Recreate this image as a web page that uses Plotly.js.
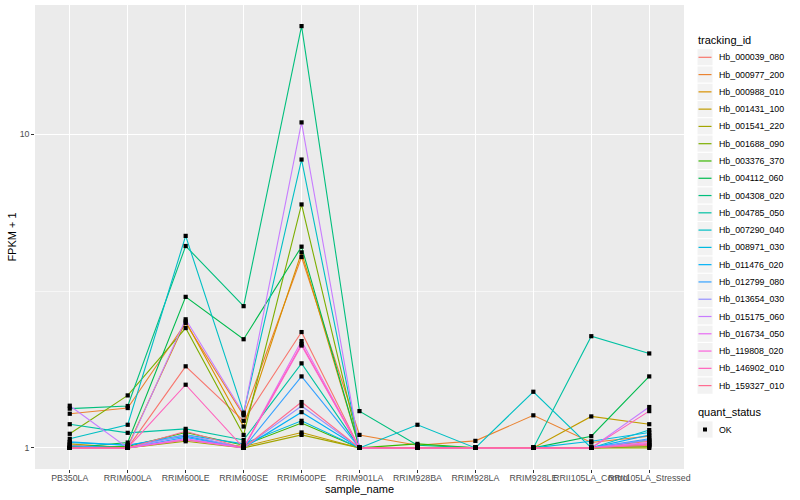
<!DOCTYPE html>
<html><head><meta charset="utf-8">
<script src="https://cdn.plot.ly/plotly-3.0.1.min.js"></script>
<style>html,body{margin:0;padding:0;background:#fff}#chart{width:800px;height:500px}</style>
</head><body><div id="chart"></div>
<script>
// ---- data ----
const samples = ["PB350LA","RRIM600LA","RRIM600LE","RRIM600SE","RRIM600PE","RRIM901LA","RRIM928BA","RRIM928LA","RRIM928LE","RRII105LA_Control","RRII105LA_Stressed"];
const trackingIds = ["Hb_000039_080","Hb_000977_200","Hb_000988_010","Hb_001431_100","Hb_001541_220","Hb_001688_090","Hb_003376_370","Hb_004112_060","Hb_004308_020","Hb_004785_050","Hb_007290_040","Hb_008971_030","Hb_011476_020","Hb_012799_080","Hb_013654_030","Hb_015175_060","Hb_016734_050","Hb_119808_020","Hb_146902_010","Hb_159327_010"];
const colors = ["#F8766D","#EA8331","#D89000","#C09B00","#A3A500","#7CAE00","#39B600","#00BB4E","#00BF7D","#00C1A3","#00BFC4","#00BAE0","#00B0F6","#35A2FF","#9590FF","#C77CFF","#E76BF3","#FA62DB","#FF62BC","#FF6C91"];
const Hb_000039_080 = [1.02, 1.00, 1.82, 1.22, 2.34, 1.00, 1.00, 1.00, 1.00, 1.00, 1.05];
const Hb_000977_200 = [1.285, 1.34, 2.50, 1.27, 4.06, 1.10, 1.02, 1.053, 1.27, 1.04, 1.09];
const Hb_000988_010 = [1.00, 1.01, 2.53, 1.17, 4.20, 1.00, 1.00, 1.00, 1.00, 1.00, 1.03];
const Hb_001431_100 = [1.03, 1.00, 1.06, 1.01, 1.12, 1.00, 1.00, 1.00, 1.00, 1.26, 1.19];
const Hb_001541_220 = [1.00, 1.00, 1.05, 1.00, 1.10, 1.00, 1.00, 1.00, 1.00, 1.00, 1.00];
const Hb_001688_090 = [1.109, 1.47, 2.41, 1.10, 5.97, 1.00, 1.00, 1.00, 1.00, 1.00, 1.01];
const Hb_003376_370 = [1.01, 1.01, 1.12, 1.02, 1.20, 1.00, 1.03, 1.00, 1.00, 1.00, 1.02];
const Hb_004112_060 = [1.00, 1.04, 3.03, 2.22, 4.38, 1.00, 1.00, 1.00, 1.00, 1.09, 1.69];
const Hb_004308_020 = [1.334, 1.36, 4.40, 2.83, 22.1, 1.31, 1.02, 1.00, 1.00, 1.00, 1.06];
const Hb_004785_050 = [1.19, 1.117, 1.15, 1.06, 1.86, 1.00, 1.00, 1.00, 1.00, 2.27, 2.00];
const Hb_007290_040 = [1.069, 1.185, 4.74, 1.295, 8.3, 1.00, 1.185, 1.00, 1.51, 1.00, 1.14];
const Hb_008971_030 = [1.04, 1.02, 1.10, 1.03, 1.22, 1.00, 1.00, 1.00, 1.00, 1.05, 1.12];
const Hb_011476_020 = [1.045, 1.02, 1.09, 1.00, 1.30, 1.00, 1.00, 1.00, 1.00, 1.00, 1.10];
const Hb_012799_080 = [1.015, 1.00, 1.08, 1.00, 1.69, 1.00, 1.00, 1.00, 1.00, 1.00, 1.07];
const Hb_013654_030 = [1.00, 1.00, 1.10, 1.00, 1.36, 1.00, 1.00, 1.00, 1.00, 1.00, 1.06];
const Hb_015175_060 = [1.363, 1.00, 2.57, 1.285, 10.9, 1.00, 1.00, 1.00, 1.00, 1.00, 1.35];
const Hb_016734_050 = [1.00, 1.00, 1.07, 1.00, 2.19, 1.00, 1.00, 1.00, 1.00, 1.00, 1.04];
const Hb_119808_020 = [1.00, 1.00, 1.06, 1.00, 2.12, 1.00, 1.00, 1.00, 1.00, 1.00, 1.03];
const Hb_146902_010 = [1.00, 1.00, 1.59, 1.00, 2.14, 1.00, 1.00, 1.00, 1.00, 1.00, 1.31];
const Hb_159327_010 = [1.00, 1.00, 1.13, 1.00, 1.40, 1.00, 1.00, 1.00, 1.00, 1.00, 1.02];
const seriesValues = [Hb_000039_080,Hb_000977_200,Hb_000988_010,Hb_001431_100,Hb_001541_220,Hb_001688_090,Hb_003376_370,Hb_004112_060,Hb_004308_020,Hb_004785_050,Hb_007290_040,Hb_008971_030,Hb_011476_020,Hb_012799_080,Hb_013654_030,Hb_015175_060,Hb_016734_050,Hb_119808_020,Hb_146902_010,Hb_159327_010];
const yTicks = [1, 10];
const yTickLabels = ["1", "10"];
const quantStatus = ["OK"];

// ---- layout geometry ----
const W = 800, H = 500;
const M = {l: 35, r: 116, t: 5, b: 31};
const PW = W - M.l - M.r, PH = H - M.t - M.b;
const X = px => (px - M.l) / PW;
const Y = py => (H - M.b - py) / PH;
const FONT = "Liberation Sans, Arial, Helvetica, sans-serif";

// ---- traces ----
const traces = [];
seriesValues.forEach((vals, i) => {
  traces.push({
    type: "scatter", mode: "lines", x: samples, y: vals, name: trackingIds[i],
    line: {color: colors[i], width: 1.1}, showlegend: false, hoverinfo: "skip"
  });
});
const px = [], py = [];
seriesValues.forEach(vals => vals.forEach((v, j) => { px.push(samples[j]); py.push(v); }));
traces.push({
  type: "scatter", mode: "markers", x: px, y: py, name: quantStatus[0],
  marker: {symbol: "square", size: 4.2, color: "black"}, showlegend: false, hoverinfo: "skip"
});

// y range (log10) with 5% expansion like ggplot
const allLog = py.map(v => Math.log10(v));
const lmin = Math.min(...allLog), lmax = Math.max(...allLog);
const ex = (lmax - lmin) * 0.05;

// ---- manual legend ----
const shapes = [], annotations = [];
const keyX0 = 697, keyX1 = 713, step = 17.28, firstCy = 57.3;
annotations.push({xref: "paper", yref: "paper", x: X(696), y: Y(40.5), xanchor: "left", yanchor: "middle",
  text: "tracking_id", showarrow: false, font: {family: FONT, size: 11, color: "black"}});
trackingIds.forEach((id, i) => {
  const cy = firstCy + step * i;
  shapes.push({type: "rect", xref: "paper", yref: "paper", x0: X(keyX0), x1: X(keyX1), y0: Y(cy - step / 2), y1: Y(cy + step / 2),
    fillcolor: "#F2F2F2", line: {color: "white", width: 1}, layer: "above"});
  shapes.push({type: "line", xref: "paper", yref: "paper", x0: X(keyX0 + 1.5), x1: X(keyX1 - 1.5), y0: Y(cy), y1: Y(cy),
    line: {color: colors[i], width: 1.2}, layer: "above"});
  annotations.push({xref: "paper", yref: "paper", x: X(716.5), y: Y(cy), xanchor: "left", yanchor: "middle",
    text: id, showarrow: false, font: {family: FONT, size: 8.8, color: "black"}});
});
annotations.push({xref: "paper", yref: "paper", x: X(696), y: Y(412), xanchor: "left", yanchor: "middle",
  text: "quant_status", showarrow: false, font: {family: FONT, size: 11, color: "black"}});
const okCy = 429.5;
shapes.push({type: "rect", xref: "paper", yref: "paper", x0: X(keyX0), x1: X(keyX1), y0: Y(okCy - step / 2), y1: Y(okCy + step / 2),
  fillcolor: "#F2F2F2", line: {color: "white", width: 1}, layer: "above"});
shapes.push({type: "rect", xref: "paper", yref: "paper", x0: X(703), x1: X(707), y0: Y(okCy - 2), y1: Y(okCy + 2),
  fillcolor: "black", line: {width: 0}, layer: "above"});
annotations.push({xref: "paper", yref: "paper", x: X(716.5), y: Y(okCy), xanchor: "left", yanchor: "middle",
  text: quantStatus[0], showarrow: false, font: {family: FONT, size: 8.8, color: "black"}});

const layout = {
  width: W, height: H, margin: M,
  paper_bgcolor: "white", plot_bgcolor: "#EBEBEB",
  font: {family: FONT, size: 8.8, color: "#4D4D4D"},
  showlegend: false,
  xaxis: {
    type: "category", categoryorder: "array", categoryarray: samples,
    range: [-0.6, samples.length - 1 + 0.6], tickangle: 0,
    showgrid: true, gridcolor: "white", gridwidth: 1.07, zeroline: false, showline: false,
    ticks: "outside", ticklen: 2.75, tickwidth: 1.07, tickcolor: "#333333",
    ticklabelstandoff: -2,
    tickfont: {family: FONT, size: 8.8, color: "#4D4D4D"},
    title: {text: "sample_name", font: {family: FONT, size: 11, color: "black"}, standoff: 0},
    automargin: false, fixedrange: true
  },
  yaxis: {
    type: "log", range: [lmin - ex, lmax + ex],
    tickmode: "array", tickvals: yTicks, ticktext: yTickLabels,
    showgrid: true, gridcolor: "white", gridwidth: 1.07, zeroline: false, showline: false,
    ticks: "outside", ticklen: 2.75, tickwidth: 1.07, tickcolor: "#333333",
    tickfont: {family: FONT, size: 8.8, color: "#4D4D4D"},
    minor: {tickmode: "array", tickvals: [Math.sqrt(10)], showgrid: true, gridcolor: "white", gridwidth: 0.53, ticks: ""},
    title: {text: "FPKM + 1", font: {family: FONT, size: 11, color: "black"}, standoff: 0},
    automargin: false, fixedrange: true
  },
  shapes: shapes, annotations: annotations
};
Plotly.newPlot("chart", traces, layout, {staticPlot: true, displayModeBar: false});
</script>
</body></html>
